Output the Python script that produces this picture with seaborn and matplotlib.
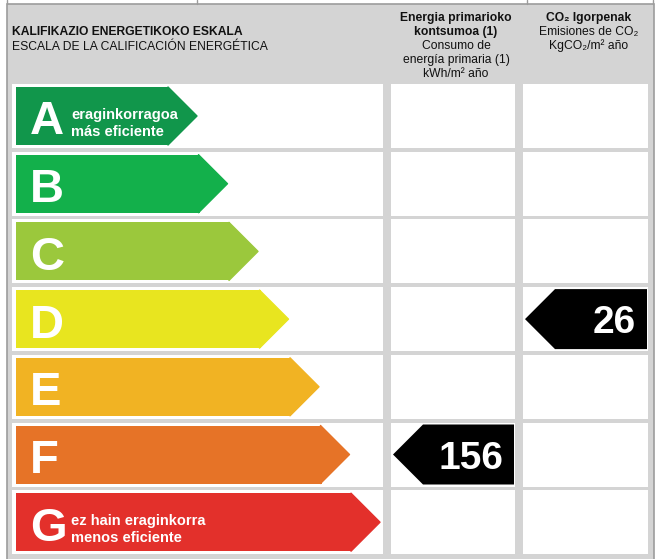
import matplotlib
matplotlib.use("Agg")
import matplotlib.pyplot as plt
import seaborn as sns
import pandas as pd
from matplotlib.patches import Polygon, Rectangle

# =====================================================
# Data
# =====================================================

classes = ["A", "B", "C", "D", "E", "F", "G"]
class_colors = ["#11964b", "#13b04b", "#9bc83c", "#e8e51f",
                "#f1b323", "#e67327", "#e3302b"]

best_caption = ["eraginkorragoa", "más eficiente"]
worst_caption = ["ez hain eraginkorra", "menos eficiente"]

scale_title = ["KALIFIKAZIO ENERGETIKOKO ESKALA",
               "ESCALA DE LA CALIFICACIÓN ENERGÉTICA"]
consumption_header = ["Energia primarioko", "kontsumoa (1)", "Consumo de",
                      "energía primaria (1)", "kWh/m² año"]
emissions_header = ["CO₂ Igorpenak", "Emisiones de CO₂", "KgCO₂/m² año"]

consumption_value = 156
consumption_class = "F"
emissions_value = 26
emissions_class = "D"

# =====================================================
# Layout (pixels)
# =====================================================

W, H = 658, 559
ROW0, ROW = 116, 67.7        # centre of row A, row pitch
X0 = 16                      # left edge of the class arrows
TIP = 28                     # length of arrow point
ARROW_H = 58
CELL_H = 64
GRAY = "#d4d4d4"
LINE = "#9c9c9c"
HEAD_FS = 8.7
columns = [(12, 383), (391, 515), (523, 648)]


def X(px):
    return px - X0


def Y(py):
    return (py - ROW0) / ROW


sns.set_theme(style="white")
plt.rcParams["font.family"] = ["Liberation Sans", "DejaVu Sans"]

fig = plt.figure(figsize=(W / 100, H / 100), dpi=100, facecolor="white")
ax = fig.add_axes([0, 0, 1, 1])

# class arrow bodies
rank = list(range(len(classes)))
tips = [197 + 30.5 * i for i in rank]
df = pd.DataFrame({
    "cls": classes,
    "body": [X(t - TIP) for t in tips],
})

sns.barplot(
    data=df, x="body", y="cls", hue="cls", palette=class_colors,
    orient="h", width=ARROW_H / ROW, saturation=1, legend=False,
    linewidth=0, ax=ax, zorder=2
)

# background frame and white cells
ax.add_patch(Rectangle((X(7), Y(4)), 647, (H + 10) / ROW,
                       facecolor=GRAY, edgecolor=LINE, lw=1.2, zorder=0))
for xx in [7, 197, 527, 653]:
    ax.plot([X(xx), X(xx)], [Y(0), Y(4)], color=LINE, lw=1, zorder=0.5)

for i in rank:
    for c0, c1 in columns:
        ax.add_patch(Rectangle((X(c0), i - CELL_H / ROW / 2), c1 - c0,
                               CELL_H / ROW, facecolor="white",
                               edgecolor="none", zorder=1))

# arrow points, letters
half = ARROW_H / ROW / 2
for i, cls in enumerate(classes):
    base = X(tips[i] - TIP) - 1
    ax.add_patch(Polygon([(base, i - half), (X(tips[i]), i), (base, i + half)],
                         closed=True, facecolor=class_colors[i],
                         edgecolor=class_colors[i], lw=1, joinstyle="round",
                         zorder=2))
    ax.text(X(30), i + 18.5 / ROW, cls, color="white", fontsize=34,
            fontweight="bold", ha="left", va="baseline", zorder=3)

for i, caption in [(0, best_caption), (len(classes) - 1, worst_caption)]:
    ax.text(X(71), i + 2.5 / ROW, caption[0], color="white", fontsize=10.5,
            fontweight="bold", ha="left", va="baseline", zorder=3)
    ax.text(X(71), i + 20 / ROW, caption[1], color="white", fontsize=10.5,
            fontweight="bold", ha="left", va="baseline", zorder=3)

# result arrows (black, pointing left)
for value, cls, (c0, c1) in [(consumption_value, consumption_class, columns[1]),
                              (emissions_value, emissions_class, columns[2])]:
    i = classes.index(cls)
    h = 60 / ROW / 2
    ax.add_patch(Polygon([(X(c0 + 2), i), (X(c0 + 32), i - h), (X(c1 - 1), i - h),
                          (X(c1 - 1), i + h), (X(c0 + 32), i + h)],
                         closed=True, facecolor="black", edgecolor="none",
                         zorder=2))
    ax.text(X(c1 - 12), i + 14 / ROW, str(value), color="white", fontsize=28,
            fontweight="bold", ha="right", va="baseline", zorder=3)

# headers
for k, line in enumerate(scale_title):
    ax.text(X(12), Y(35 + 15 * k), line, fontsize=HEAD_FS,
            fontweight="bold" if k == 0 else "normal",
            ha="left", va="baseline", color="#111111")

for k, line in enumerate(consumption_header):
    ax.text(X(456), Y(21 + 14 * k), line, fontsize=HEAD_FS,
            fontweight="bold" if k < 2 else "normal",
            ha="center", va="baseline", color="#111111")

for k, line in enumerate(emissions_header):
    ax.text(X(589), Y(21 + 14 * k), line, fontsize=HEAD_FS,
            fontweight="bold" if k == 0 else "normal",
            ha="center", va="baseline", color="#111111")

ax.set_xlim(X(0), X(W))
ax.set_ylim(Y(H), Y(0))
ax.axis("off")

fig.savefig("out.png", dpi=100)
plt.close(fig)
